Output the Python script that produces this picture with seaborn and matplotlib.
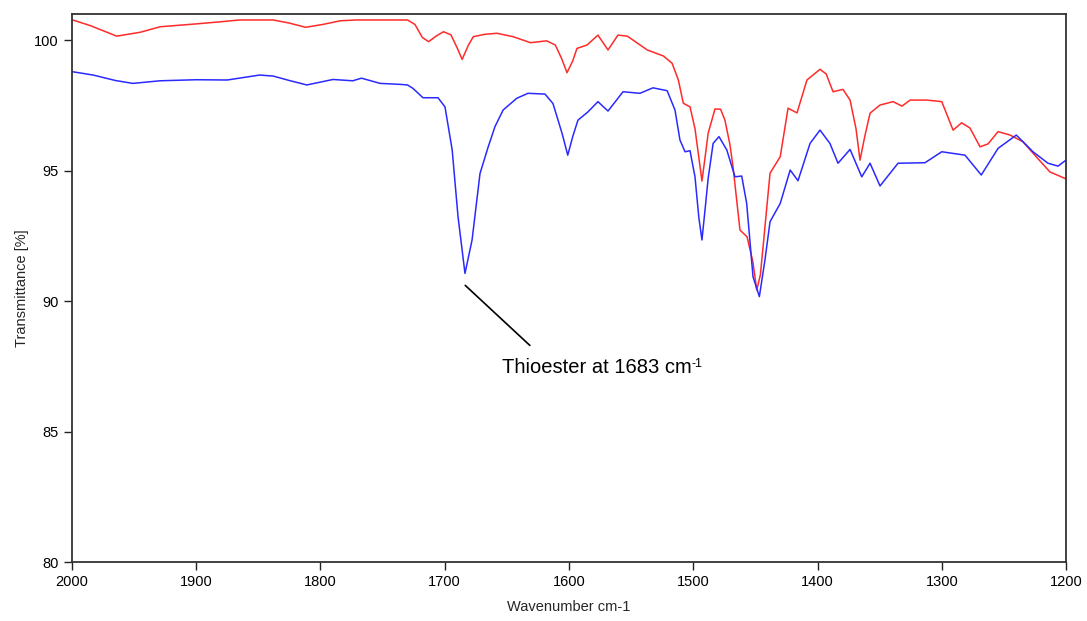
import matplotlib
matplotlib.use("Agg")
import matplotlib.pyplot as plt
import pandas as pd
import seaborn as sns

# red trace (reference)
red_wn = [2000, 1985, 1964, 1945, 1929, 1900, 1883, 1865, 1838, 1825, 1812, 1798, 1784, 1771,
          1730, 1724, 1718, 1713, 1707, 1701, 1695, 1690, 1686, 1681, 1677, 1668, 1658, 1645,
          1631, 1618, 1611, 1606, 1601.6, 1597, 1593.6, 1585.5, 1576.7, 1568.6, 1560.6, 1553,
          1537, 1524, 1517, 1512, 1508, 1502.6, 1498.6, 1495.5, 1493, 1490.5, 1488, 1482.5,
          1478, 1474.5, 1470.5, 1468, 1462.4, 1456.7, 1452, 1448.9, 1446, 1443.8, 1438.2, 1430,
          1423.7, 1416.5, 1408.5, 1398, 1393, 1387.5, 1379.5, 1373.8, 1369, 1365.8, 1362,
          1357.7, 1349.7, 1339.2, 1332, 1325.5, 1312, 1300, 1290.9, 1284, 1277.3, 1269.2,
          1262.8, 1254.7, 1245, 1234.6, 1224, 1213, 1200]
red_t = [100.78, 100.55, 100.15, 100.3, 100.51, 100.62, 100.69, 100.77, 100.77, 100.65, 100.49,
         100.6, 100.74, 100.77, 100.77, 100.6, 100.1, 99.94, 100.15, 100.32, 100.2, 99.7, 99.26,
         99.8, 100.13, 100.22, 100.26, 100.13, 99.9, 99.97, 99.81, 99.3, 98.75, 99.2, 99.68,
         99.81, 100.19, 99.62, 100.19, 100.15, 99.62, 99.39, 99.11, 98.47, 97.58, 97.44, 96.6,
         95.5, 94.6, 95.5, 96.43, 97.36, 97.35, 96.93, 96.0, 95.15, 92.72, 92.46, 91.5, 90.42,
         91.0, 92.08, 94.9, 95.53, 97.39, 97.21, 98.47, 98.88, 98.7, 98.02, 98.11, 97.7, 96.6,
         95.4, 96.3, 97.2, 97.51, 97.64, 97.47, 97.7, 97.7, 97.64, 96.55, 96.83, 96.63, 95.91,
         96.02, 96.49, 96.36, 96.1, 95.53, 94.95, 94.68]

# blue trace (sample)
blue_wn = [2000, 1983, 1965, 1951, 1929, 1900, 1875, 1849, 1838, 1825, 1811, 1790, 1774, 1767,
           1752, 1735, 1730, 1725.6, 1717.5, 1705.4, 1699.8, 1694, 1689.3, 1683.7, 1678,
           1671.6, 1665, 1659.6, 1653, 1642, 1633, 1619.3, 1612.9, 1605.6, 1601, 1597, 1592.8,
           1584.7, 1576.7, 1568.6, 1556.5, 1542.9, 1532.4, 1521, 1514.7, 1510.7, 1506.6,
           1502.6, 1498.6, 1495.5, 1493, 1490.5, 1488, 1484, 1479.3, 1473, 1466.4, 1461, 1457,
           1451.9, 1446.8, 1442.3, 1438.2, 1430, 1422, 1415.7, 1406, 1398, 1390, 1383.5,
           1373.8, 1364.4, 1357.7, 1349.7, 1335.2, 1313.5, 1300, 1281.3, 1268.2, 1254.7, 1240,
           1226.6, 1214.5, 1206.4, 1200]
blue_t = [98.79, 98.66, 98.45, 98.34, 98.44, 98.48, 98.47, 98.66, 98.62, 98.45, 98.28, 98.49,
          98.44, 98.54, 98.34, 98.3, 98.28, 98.15, 97.79, 97.79, 97.44, 95.79, 93.23, 91.06,
          92.34, 94.89, 95.91, 96.68, 97.32, 97.77, 97.96, 97.93, 97.57, 96.43, 95.59, 96.3,
          96.93, 97.25, 97.64, 97.28, 98.02, 97.96, 98.17, 98.06, 97.32, 96.17, 95.72, 95.76,
          94.76, 93.2, 92.34, 93.5, 94.7, 96.04, 96.3, 95.79, 94.76, 94.79, 93.74, 90.93, 90.17,
          91.57, 93.04, 93.74, 95.02, 94.61, 96.04, 96.55, 96.04, 95.28, 95.81, 94.76, 95.28,
          94.41, 95.28, 95.3, 95.72, 95.59, 94.83, 95.85, 96.36, 95.72, 95.28, 95.17, 95.4]

x_ticks = [2000, 1900, 1800, 1700, 1600, 1500, 1400, 1300, 1200]
y_ticks = [80, 85, 90, 95, 100]
note_text = "Thioester at 1683 cm"
note_sup = "-1"

sns.set_style("ticks")
plt.rcParams['font.family'] = ['Liberation Sans', 'DejaVu Sans']

red = pd.DataFrame({'wn': red_wn, 't': red_t})
blue = pd.DataFrame({'wn': blue_wn, 't': blue_t})

fig = plt.figure(figsize=(10.87, 6.21), dpi=100)
ax = fig.add_axes([0.0662, 0.095, 0.9145, 0.8825])

sns.lineplot(data=red, x='wn', y='t', color='#ff2a2a', linewidth=1.1, estimator=None, ax=ax)
sns.lineplot(data=blue, x='wn', y='t', color='#2a2aff', linewidth=1.1, estimator=None, ax=ax)

ax.set_xlim(2000, 1200)
ax.set_ylim(80, 101)
ax.set_xticks(x_ticks)
ax.set_yticks(y_ticks)
ax.tick_params(direction='out', length=6, width=1, colors='#222222', labelsize=10.5,
               labelcolor='black')
ax.set_xlabel('Wavenumber cm-1', fontsize=10.5, labelpad=8)
ax.set_ylabel('Transmittance [%]', fontsize=10.5, labelpad=4)
for s in ax.spines.values():
    s.set_color('#333333')
    s.set_linewidth(1.3)

ax.plot([1683.5, 1631.5], [90.6, 88.3], color='black', linewidth=1.2)
t = ax.text(1654, 87.45, note_text, fontsize=14.5, va='center', ha='left', color='black')
ax.annotate(note_sup, xy=(1, 1), xycoords=t, xytext=(0, 0), textcoords='offset points',
            fontsize=9, va='top', ha='left', color='black')

fig.savefig('out.png', dpi=100)
